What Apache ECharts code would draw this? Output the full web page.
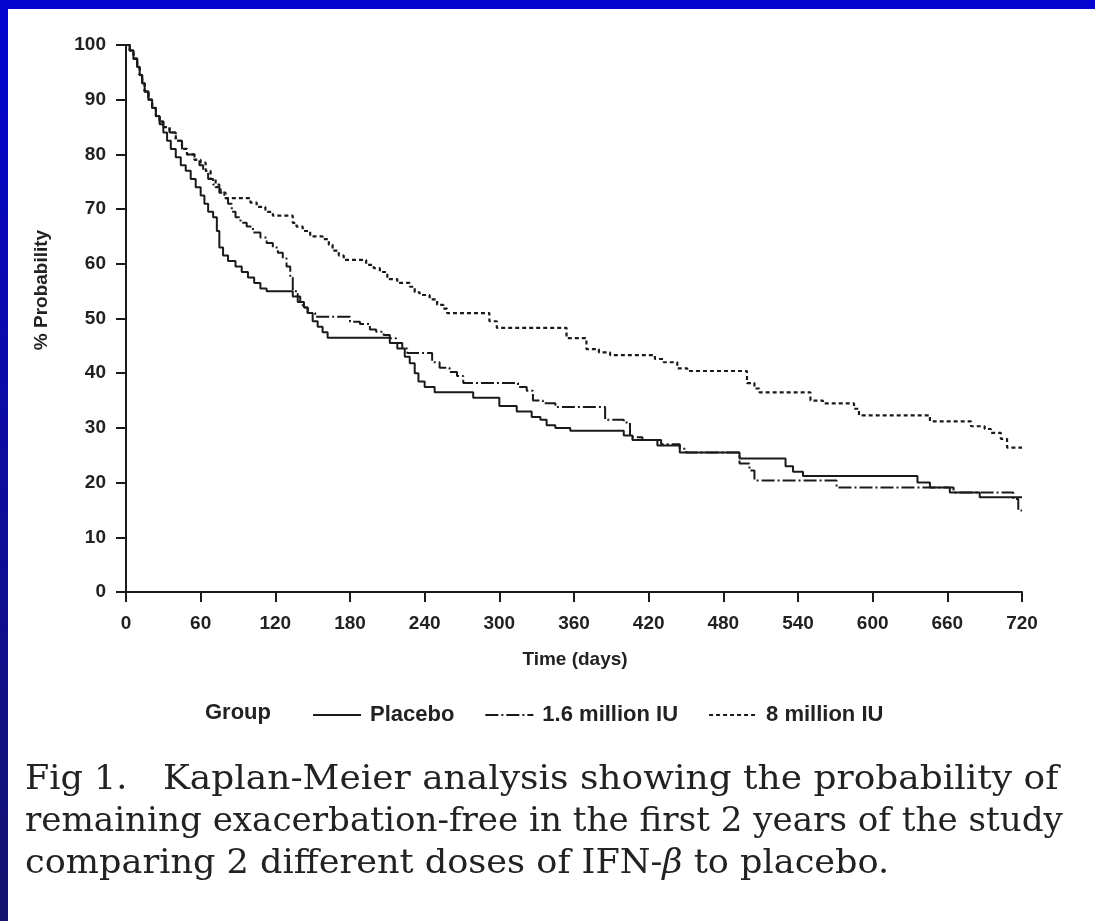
<!DOCTYPE html>
<html>
<head>
<meta charset="utf-8">
<script src="https://cdn.jsdelivr.net/npm/echarts@6/dist/echarts.min.js"></script>
<style>
  html, body { margin: 0; padding: 0; background: #fff; }
  #main { width: 1095px; height: 921px; }
</style>
</head>
<body>
<div id="main"></div>
<script>
// Kaplan-Meier steps: [day, % probability from that day on]
var placebo = [
  [0, 100], [3, 99], [6, 97.5], [9, 96], [11, 94.5], [13, 93], [15, 91.5], [18, 90], [21, 88.5],
  [24, 87], [27, 85.5], [30, 84], [33, 82.5], [36, 81], [40, 79.5], [44, 78], [48, 77], [52, 75.5],
  [56, 74], [60, 72.5], [63, 71], [66, 69.5], [70, 68.5], [73, 66], [75, 63], [78, 61.5], [82, 60.5],
  [88, 59.5], [93, 58.5], [98, 57.5], [103, 56.5], [108, 55.5], [113, 55], [134, 54], [140, 53],
  [143, 52], [146, 51], [150, 49.5], [154, 48.5], [158, 47.5], [162, 46.5], [212, 45.5], [218, 44.5],
  [224, 43], [228, 41.8], [232, 40], [235, 38.5], [240, 37.5], [248, 36.5], [279, 35.5], [300, 34],
  [314, 33], [326, 32], [333, 31.5], [338, 30.5], [345, 30], [357, 29.5], [400, 28.6], [407, 27.8],
  [427, 26.8], [445, 25.5], [493, 24.4], [530, 23], [536, 22], [544, 21.2], [636, 20], [646, 19.1],
  [662, 18.2], [686, 17.3], [720, 17.3]
];
var dose16 = [
  [0, 100], [3, 99], [6, 97.5], [9, 96], [11, 94.5], [13, 93], [15, 91.5], [18, 90], [21, 88.5],
  [24, 87], [27, 86], [30, 85], [35, 84], [40, 82.5], [45, 81], [49, 80], [55, 79], [59, 78],
  [62, 77], [66, 75.5], [70, 74.5], [75, 73], [79, 72], [82, 71], [85, 69.5], [88, 68.5], [92, 67.5],
  [97, 66.8], [102, 65.7], [108, 64.8], [113, 63.8], [118, 63], [122, 62], [126, 61], [129, 59.5],
  [132, 57.5], [134, 55], [138, 53], [142, 52], [146, 51], [152, 50.3], [180, 49.4], [188, 49],
  [196, 48], [201, 47.6], [207, 47], [212, 46.4], [217, 45.5], [222, 44.5], [226, 43.7], [246, 42],
  [252, 41], [260, 40.2], [266, 39.5], [271, 38.2], [315, 37.5], [322, 36.8], [327, 35], [335, 34.5],
  [345, 33.8], [385, 31.5], [400, 31], [405, 28.3], [415, 27.8], [430, 27], [445, 26.2], [450, 25.5],
  [493, 23.5], [501, 22.2], [505, 20.4], [571, 19.1], [665, 18.2], [713, 17], [717, 14.9], [720, 14.9]
];
var dose8 = [
  [0, 100], [3, 99], [6, 97.5], [9, 96], [11, 94.5], [13, 93], [15, 91.5], [18, 90], [21, 88.5],
  [24, 87], [27, 86], [30, 85], [35, 84], [40, 82.5], [45, 81], [49, 80], [55, 79], [60, 78.5],
  [64, 77], [68, 75.5], [72, 74], [76, 73], [80, 72], [100, 71.2], [105, 70.4], [112, 69.5],
  [118, 68.8], [134, 67.5], [137, 66.8], [142, 66], [148, 65], [158, 64.5], [163, 63.5], [166, 62.4],
  [171, 61.5], [175, 60.7], [193, 59.8], [199, 59.2], [204, 58.5], [210, 57.2], [218, 56.5],
  [228, 55.8], [232, 54.8], [236, 54.3], [244, 53.5], [250, 52.5], [255, 51.8], [258, 51], [292, 49.5],
  [298, 48.3], [354, 46.4], [370, 44.4], [380, 43.8], [389, 43.3], [425, 42.6], [432, 42], [443, 40.9],
  [451, 40.4], [499, 38.2], [505, 37.2], [509, 36.5], [550, 35], [560, 34.5], [585, 33.5], [589, 32.3],
  [646, 31.2], [679, 30.3], [690, 29.8], [695, 29.1], [703, 28], [708, 26.4], [720, 26.4]
];
var groupNames = ['Placebo', '1.6 million IU', '8 million IU'];
var captionLines = [
  'Kaplan-Meier analysis showing the probability of',
  'remaining exacerbation-free in the first 2 years of the study'
];

var ink = '#1a1a1a';
var sans = '"Liberation Sans", Arial, sans-serif';
var serif = '"DejaVu Serif", serif';

var chart = echarts.init(document.getElementById('main'));

var option = {
  animation: false,
  backgroundColor: '#fff',
  grid: { left: 126, right: 73, top: 45, bottom: 329 },
  xAxis: {
    type: 'value', min: 0, max: 720, interval: 60,
    axisLine: { lineStyle: { color: ink, width: 2 } },
    axisTick: { length: 10, lineStyle: { color: ink, width: 2 } },
    axisLabel: { color: '#222', fontSize: 19, fontWeight: 'bold', fontFamily: sans, margin: 22 },
    splitLine: { show: false }
  },
  yAxis: {
    type: 'value', min: 0, max: 100, interval: 10,
    axisLine: { lineStyle: { color: ink, width: 2 } },
    axisTick: { length: 10, lineStyle: { color: ink, width: 2 } },
    axisLabel: { color: '#222', fontSize: 19, fontWeight: 'bold', fontFamily: sans, margin: 20 },
    splitLine: { show: false }
  },
  legend: {
    left: 307, top: 699, itemWidth: 48, itemHeight: 14, itemGap: 30,
    data: groupNames,
    itemStyle: { opacity: 0 },
    textStyle: { color: '#222', fontSize: 22, fontWeight: 'bold', fontFamily: sans, padding: [0, 0, 0, 4] }
  },
  series: [
    {
      name: groupNames[0], type: 'line', step: 'end', symbol: 'none', data: placebo,
      color: ink, lineStyle: { color: ink, width: 2, type: 'solid' }
    },
    {
      name: groupNames[1], type: 'line', step: 'end', symbol: 'none', data: dose16,
      color: ink, lineStyle: { color: ink, width: 2, type: [13, 3, 2, 3] }
    },
    {
      name: groupNames[2], type: 'line', step: 'end', symbol: 'none', data: dose8,
      color: ink, lineStyle: { color: ink, width: 2.2, type: [4, 3] }
    }
  ],
  graphic: [
    // blue frame
    { type: 'rect', shape: { x: 0, y: 0, width: 1095, height: 9 }, style: { fill: '#0505d2' } },
    {
      type: 'rect', shape: { x: 0, y: 0, width: 8, height: 921 },
      style: {
        fill: new echarts.graphic.LinearGradient(0, 0, 0, 1, [
          { offset: 0, color: '#0505d2' }, { offset: 1, color: '#14146e' }
        ])
      }
    },
    {
      type: 'text', x: 42, y: 290, rotation: Math.PI / 2,
      style: { text: '% Probability', fill: '#222', font: 'bold 19px ' + sans, align: 'center', verticalAlign: 'middle' }
    },
    {
      type: 'text', x: 575, y: 660,
      style: { text: 'Time (days)', fill: '#222', font: 'bold 19px ' + sans, align: 'center', verticalAlign: 'middle' }
    },
    {
      type: 'text', x: 205, y: 713,
      style: { text: 'Group', fill: '#222', font: 'bold 22px ' + sans, align: 'left', verticalAlign: 'middle' }
    },
    // caption
    {
      type: 'text', x: 25, y: 780, scaleX: 1.06,
      style: { text: 'Fig 1.', fill: '#222', font: '33px ' + serif, align: 'left', verticalAlign: 'middle' }
    },
    {
      type: 'text', x: 163, y: 780, scaleX: 1.09,
      style: { text: captionLines[0], fill: '#222', font: '33px ' + serif, align: 'left', verticalAlign: 'middle' }
    },
    {
      type: 'text', x: 25, y: 822, scaleX: 1.034,
      style: { text: captionLines[1], fill: '#222', font: '33px ' + serif, align: 'left', verticalAlign: 'middle' }
    },
    {
      type: 'text', x: 25, y: 864, scaleX: 1.063,
      style: {
        text: '{a|comparing 2 different doses of IFN-}{b|β}{a| to placebo.}',
        align: 'left', verticalAlign: 'middle',
        rich: {
          a: { fill: '#222', fontSize: 33, fontFamily: serif },
          b: { fill: '#222', fontSize: 33, fontFamily: serif, fontStyle: 'italic' }
        }
      }
    }
  ]
};

chart.setOption(option);
</script>
</body>
</html>
